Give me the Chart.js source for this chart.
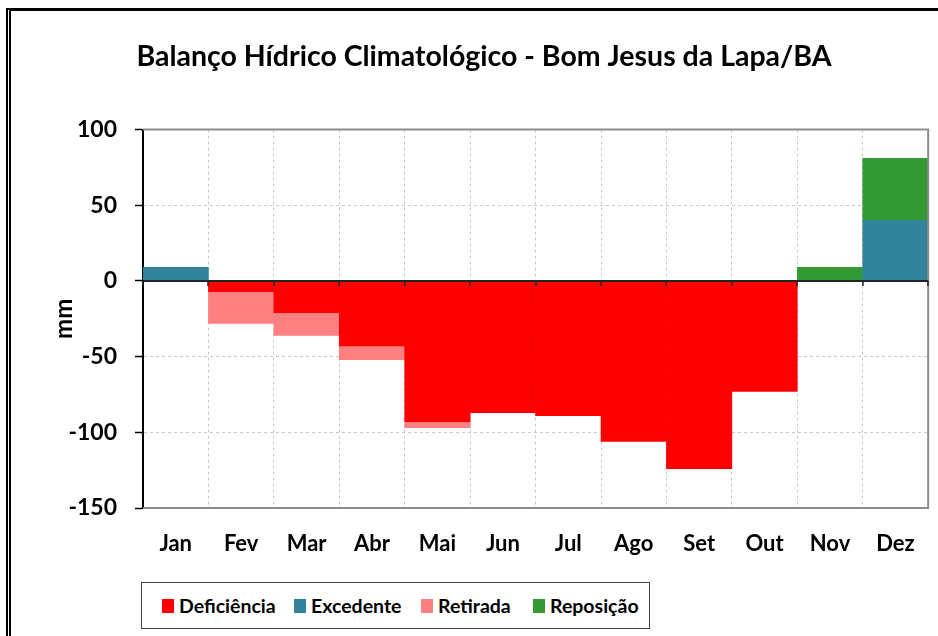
<!DOCTYPE html>
<html lang="pt-BR">
<head>
<meta charset="utf-8">
<title>Balanço Hídrico Climatológico - Bom Jesus da Lapa/BA</title>
<script src="https://cdn.jsdelivr.net/npm/chart.js@4.4.1/dist/chart.umd.min.js"></script>
<style>
  html, body { margin: 0; padding: 0; background: #fff; }
  #wrap { position: relative; width: 938px; height: 636px; overflow: hidden; font-family: Lato, sans-serif; }
  #frame { position: absolute; left: 6px; top: 8px; width: 960px; height: 660px;
           border-top: 3px solid #000; border-left: 5px double #000; }
  #chart-box { position: absolute; left: 0; top: 0; width: 938px; height: 636px; }
  #legend { position: absolute; left: 141px; top: 582px; width: 509px; height: 47px;
            border: 1px solid #444; background: #fff; box-sizing: border-box; }
  #legend .item { position: absolute; top: 11px; display: flex; align-items: center;
                  font-weight: bold; font-size: 19.5px; color: #000; line-height: 24px; }
  #legend .box { width: 12px; height: 14px; margin-right: 5px; }
</style>
</head>
<body>
<div id="wrap">
  <div id="frame"></div>
  <div id="chart-box"><canvas id="grafico"></canvas></div>
  <div id="legend"></div>
</div>
<script>
// meses e valores (mm)
const meses = ['Jan', 'Fev', 'Mar', 'Abr', 'Mai', 'Jun', 'Jul', 'Ago', 'Set', 'Out', 'Nov', 'Dez'];
const deficiencia = [null, -7, -21, -43, -93, -87, -89, -106, -124, -73, null, null];
const excedente   = [9, null, null, null, null, null, null, null, null, null, null, 40];
const retirada    = [null, -21, -15, -9, -4, null, null, null, null, null, null, null];
const reposicao   = [null, null, null, null, null, null, null, null, null, null, 9, 41];
const yTicks = [100, 50, 0, -50, -100, -150];

const fonte = 'Lato, sans-serif';

// moldura da área do gráfico, linha do zero e marcas nas divisas dos meses
const moldura = {
    id: 'moldura',
    afterDatasetsDraw(chart) {
        const { ctx, chartArea: a, scales: { x, y } } = chart;
        ctx.save();
        ctx.strokeStyle = '#8c8c8c';
        ctx.lineWidth = 2;
        ctx.beginPath();
        ctx.moveTo(a.left, a.top);
        ctx.lineTo(a.right, a.top);
        ctx.lineTo(a.right, a.bottom);
        ctx.lineTo(a.left, a.bottom);
        ctx.stroke();

        const y0 = y.getPixelForValue(0);
        ctx.strokeStyle = '#222';
        ctx.beginPath();
        ctx.moveTo(a.left, y0);
        ctx.lineTo(a.right, y0);
        ctx.stroke();
        ctx.lineWidth = 1.5;
        ctx.beginPath();
        for (let i = 0; i <= meses.length; i++) {
            const px = Math.round(x.getPixelForValue(i - 0.5));
            ctx.moveTo(px, y0);
            ctx.lineTo(px, y0 + 5);
        }
        ctx.stroke();
        ctx.restore();
    }
};

// legenda em HTML montada a partir dos datasets (posição x de cada item, relativa à caixa)
const legendaX = [20, 152, 279, 391];
const legendaHtml = {
    id: 'legendaHtml',
    afterUpdate(chart) {
        const el = document.getElementById('legend');
        el.innerHTML = '';
        chart.data.datasets.forEach((ds, i) => {
            const item = document.createElement('div');
            item.className = 'item';
            item.style.left = legendaX[i] + 'px';
            const box = document.createElement('span');
            box.className = 'box';
            box.style.background = ds.backgroundColor;
            item.appendChild(box);
            item.appendChild(document.createTextNode(ds.label));
            el.appendChild(item);
        });
    }
};

const canvas = document.getElementById('grafico');
new Chart(canvas, {
    type: 'bar',
    data: {
        labels: meses,
        datasets: [
            { label: 'Deficiência', data: deficiencia, backgroundColor: '#ff0000' },
            { label: 'Excedente', data: excedente, backgroundColor: '#31849b' },
            { label: 'Retirada', data: retirada, backgroundColor: '#ff8080' },
            { label: 'Reposição', data: reposicao, backgroundColor: '#339933' }
        ]
    },
    options: {
        responsive: true,
        maintainAspectRatio: false,
        animation: false,
        devicePixelRatio: 1,
        layout: { padding: { left: 38, right: 8, top: 0, bottom: 0 } },
        datasets: {
            bar: { barPercentage: 1, categoryPercentage: 1, borderWidth: 0, skipNull: true }
        },
        scales: {
            x: {
                stacked: true,
                offset: true,
                grid: { offset: true, color: '#c8c8c8', drawTicks: false },
                border: { display: true, color: '#8c8c8c', width: 2, dash: [3, 3] },
                ticks: {
                    color: '#000',
                    padding: 23,
                    font: { family: fonte, size: 22, weight: 'bold' }
                },
                afterFit(scale) { scale.height = 128; }
            },
            y: {
                stacked: true,
                min: -150,
                max: 100,
                afterBuildTicks(scale) { scale.ticks = yTicks.map(v => ({ value: v })); },
                grid: {
                    color(ctx) {
                        const v = ctx.tick ? ctx.tick.value : null;
                        return (v === 100 || v === 0 || v === -150) ? 'rgba(0,0,0,0)' : '#c8c8c8';
                    },
                    tickColor: '#000',
                    tickLength: 8,
                    tickWidth: 1.5
                },
                border: { display: true, color: '#000', width: 2, dash: [3, 3] },
                ticks: {
                    color: '#000',
                    padding: 18,
                    font: { family: fonte, size: 23, weight: 'bold' }
                },
                title: {
                    display: true,
                    text: 'mm',
                    color: '#000',
                    padding: { top: 12, bottom: 0 },
                    font: { family: fonte, size: 24, weight: 'bold' }
                },
                afterFit(scale) { scale.width = 105; }
            }
        },
        plugins: {
            legend: { display: false },
            tooltip: { enabled: false },
            title: {
                display: true,
                text: 'Balanço Hídrico Climatológico - Bom Jesus da Lapa/BA',
                color: '#000',
                padding: { top: 40, bottom: 55.4 },
                font: { family: fonte, size: 28.5, weight: 'bold', lineHeight: 1.2 }
            }
        }
    },
    plugins: [moldura, legendaHtml]
});
</script>
</body>
</html>
